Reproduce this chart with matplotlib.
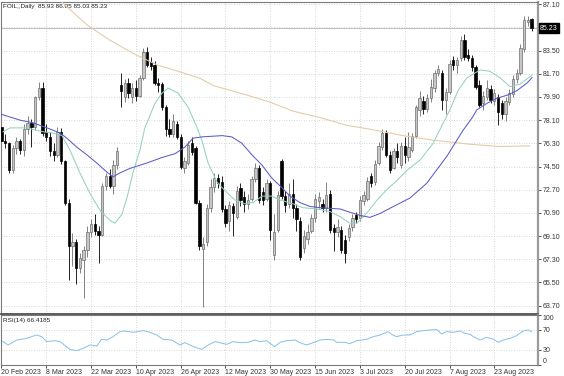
"""FOIL daily candles with three moving averages and an RSI(14) pane, MT4 style."""

import matplotlib
matplotlib.use("Agg")
import matplotlib.pyplot as plt
import numpy as np

plt.rcParams["font.family"] = ["Liberation Sans", "DejaVu Sans"]

# ------------------------------------------------------------------
# Data
# ------------------------------------------------------------------
opens = [
    77.6, 76.5, 76.3, 74.2, 75.9, 76.5, 75.8, 77.4, 77.9, 77.6,
    79.9, 80.6, 77.2, 76.8, 75.7, 75.4, 77.2, 74.9, 71.7, 68.3,
    68.6, 66.6, 67.2, 68.0, 69.4, 70.0, 69.5, 69.2, 73.0, 73.8,
    73.0, 74.6, 80.8, 79.9, 81.0, 79.9, 80.6, 80.0, 81.4, 83.4,
    82.6, 82.4, 81.0, 80.9, 79.1, 77.4, 77.0, 77.8, 76.8, 74.4,
    74.8, 76.3, 75.9, 71.7, 68.1, 68.6, 71.3, 72.9, 73.6, 73.3,
    71.2, 70.3, 71.4, 70.6, 72.8, 72.1, 71.6, 72.0, 73.5, 74.4,
    72.5, 72.0, 73.2, 67.6, 69.6, 74.9, 72.2, 71.6, 72.4, 71.3,
    70.3, 68.2, 68.9, 69.5, 70.5, 71.8, 71.6, 71.3, 72.4, 69.7,
    69.4, 69.6, 68.8, 69.0, 69.8, 70.7, 70.5, 71.8, 72.0, 73.8,
    73.3, 74.8, 76.0, 77.1, 75.4, 74.4, 75.7, 74.6, 76.1, 75.2,
    75.8, 76.9, 78.9, 79.6, 79.0, 79.8, 80.6, 81.8, 81.8, 79.7,
    80.3, 82.8, 82.4, 82.9, 84.3, 83.2, 82.9, 82.2, 80.8, 79.4,
    79.9, 80.5, 79.6, 79.9, 79.4, 78.6, 79.5, 80.1, 81.3, 81.8,
    83.6, 85.7, 85.93,
]
highs = [
    78.0, 77.0, 76.4, 76.2, 76.8, 76.6, 77.8, 78.4, 78.2, 80.0,
    81.1, 81.1, 77.8, 77.2, 76.3, 77.6, 77.5, 75.0, 72.0, 69.3,
    68.9, 67.8, 68.3, 69.9, 70.4, 70.8, 69.9, 73.2, 74.0, 74.3,
    75.0, 76.0, 81.8, 81.3, 81.4, 81.0, 81.2, 81.6, 83.7, 83.8,
    83.0, 82.7, 81.4, 81.1, 79.3, 78.2, 78.6, 78.0, 77.0, 75.2,
    76.5, 76.8, 76.1, 71.9, 69.0, 71.6, 73.5, 74.0, 73.9, 73.8,
    71.5, 71.8, 71.7, 73.0, 73.2, 72.6, 72.4, 73.8, 74.8, 74.6,
    72.9, 73.5, 73.4, 70.8, 72.6, 75.1, 72.6, 73.2, 73.5, 71.6,
    70.6, 69.6, 70.0, 70.8, 72.4, 72.5, 72.0, 73.3, 72.7, 70.0,
    70.4, 69.9, 69.2, 70.0, 70.8, 71.0, 72.2, 72.6, 73.7, 74.0,
    75.0, 76.4, 77.4, 77.3, 75.7, 75.9, 76.3, 76.4, 76.8, 77.2,
    77.1, 79.3, 80.4, 80.0, 80.1, 81.3, 82.0, 82.4, 82.0, 80.6,
    82.8, 83.1, 83.0, 84.6, 84.8, 83.6, 83.2, 82.4, 81.2, 80.4,
    81.2, 80.8, 80.5, 80.1, 79.7, 79.9, 80.5, 81.6, 82.1, 84.0,
    86.2, 86.2, 86.05,
]
lows = [
    76.2, 75.9, 74.0, 74.0, 75.5, 75.5, 75.3, 77.0, 76.0, 77.3,
    79.7, 76.9, 76.5, 75.3, 74.9, 75.2, 74.7, 71.5, 65.7, 66.8,
    65.4, 66.2, 64.3, 67.5, 69.0, 69.2, 67.0, 69.1, 72.7, 72.8,
    72.4, 74.3, 79.1, 79.5, 79.8, 79.4, 79.6, 79.9, 81.2, 82.2,
    82.0, 80.8, 80.3, 78.9, 76.9, 76.8, 76.8, 76.6, 74.3, 74.0,
    74.6, 75.4, 71.6, 68.0, 63.6, 68.3, 71.0, 72.5, 72.8, 71.0,
    69.8, 69.5, 69.1, 70.4, 71.4, 71.0, 71.2, 71.8, 73.3, 71.7,
    71.5, 71.8, 68.8, 67.2, 69.4, 72.0, 71.0, 71.3, 70.5, 69.5,
    67.2, 67.8, 68.5, 69.3, 70.2, 71.3, 71.0, 71.0, 69.3, 67.9,
    69.0, 67.8, 67.0, 68.7, 69.5, 70.1, 70.3, 71.5, 71.8, 72.9,
    73.1, 74.6, 75.8, 75.2, 74.0, 74.3, 74.8, 74.4, 74.8, 74.9,
    75.6, 76.7, 78.4, 78.6, 78.7, 79.5, 80.3, 81.5, 78.9, 78.6,
    80.1, 82.0, 81.8, 82.7, 82.8, 82.7, 81.9, 80.5, 79.1, 78.9,
    79.7, 79.4, 79.3, 77.7, 78.2, 78.0, 79.3, 79.9, 81.0, 81.6,
    83.4, 85.4, 85.03,
]
closes = [
    76.5, 76.3, 74.2, 75.9, 76.5, 75.8, 77.4, 77.9, 77.6, 79.9,
    80.6, 77.1, 76.8, 75.7, 75.4, 77.2, 74.9, 71.7, 68.3, 68.6,
    66.6, 67.4, 68.0, 69.4, 70.0, 69.5, 69.2, 73.0, 73.8, 73.0,
    74.6, 75.7, 80.4, 81.0, 80.2, 80.6, 80.0, 81.4, 83.4, 82.4,
    82.3, 81.0, 80.8, 79.1, 77.4, 77.0, 78.0, 76.8, 74.5, 74.9,
    76.2, 75.6, 71.7, 68.3, 68.5, 71.3, 72.9, 73.6, 73.2, 71.2,
    70.1, 71.5, 70.9, 72.6, 71.9, 71.6, 71.9, 73.5, 74.4, 71.9,
    71.9, 73.2, 69.6, 69.4, 72.3, 72.2, 71.5, 72.4, 71.3, 70.4,
    67.5, 69.1, 69.4, 70.5, 72.0, 72.1, 71.3, 72.3, 69.6, 69.4,
    69.8, 68.0, 67.8, 69.7, 70.5, 70.4, 71.9, 72.3, 73.4, 73.2,
    74.7, 76.1, 77.1, 75.4, 74.2, 75.7, 75.2, 76.1, 75.4, 76.0,
    76.9, 79.1, 79.8, 79.0, 79.8, 80.7, 81.8, 82.1, 79.7, 80.3,
    82.5, 82.4, 82.8, 84.3, 83.0, 82.9, 82.2, 80.7, 79.3, 80.0,
    80.6, 79.7, 80.2, 78.7, 78.6, 79.6, 80.2, 81.3, 81.8, 83.7,
    85.9, 85.9, 85.23,
]

# moving averages: (bar index, value) samples
ma_long_x = [14, 17.0, 22.9, 29.1, 35.2, 41.6, 47.8, 53.2, 56.6, 65.7,
             71.9, 78.1, 85.3, 92.5, 98.7, 107.5, 115.6, 124.7, 133.5, 141.5]
ma_long = [87.9, 87.05, 85.5, 84.3, 83.3, 82.4, 81.85, 81.35, 80.8, 80.05,
           79.5, 78.8, 78.3, 77.7, 77.4, 76.9, 76.55, 76.25, 76.05, 76.1]

ma_fast_x = [0.4, 2.3, 6.8, 11.1, 13.8, 16.2, 18.3, 21.0, 23.7, 26.4,
             29.1, 30.4, 32.3, 33.9, 35.2, 37.1, 38.4, 41.1, 43.0, 44.6,
             47.3, 50.0, 52.4, 53.7, 55.3, 57.7, 59.9, 62.5, 65.2, 67.4,
             69.8, 72.4, 74.6, 78.1, 80.7, 84.5, 88.0, 90.7, 93.3, 95.2,
             97.9, 100.6, 103.2, 105.9, 108.6, 112.1, 115.6, 120.1, 122.3, 124.7,
             128.2, 130.8, 133.5, 136.2, 138.9, 142.1]
ma_fast = [77.2, 77.5, 77.5, 77.2, 77.1, 76.9, 75.8, 74.0, 72.4, 71.1,
           70.3, 70.1, 70.8, 72.4, 74.0, 75.8, 77.5, 79.4, 80.2, 80.6,
           80.2, 79.1, 77.5, 76.5, 74.8, 73.3, 72.6, 71.9, 71.6, 71.7,
           72.2, 72.2, 71.9, 71.6, 71.3, 71.2, 71.0, 70.6, 70.1, 70.1,
           70.9, 71.9, 72.7, 73.4, 74.2, 75.0, 76.3, 78.9, 80.4, 81.4,
           82.0, 81.9, 81.4, 80.7, 80.9, 81.6]

ma_mid_x = [0, 5.0, 8.4, 12.2, 15.7, 17.5, 20.2, 22.9, 25.6, 28.3,
            29.9, 31.7, 34.4, 37.1, 39.2, 43.0, 46.5, 49.1, 51.3, 53.7,
            59.1, 61.7, 64.4, 67.1, 69.8, 72.4, 74.6, 77.3, 79.9, 82.6,
            85.3, 88.0, 90.7, 93.3, 96.0, 98.7, 101.4, 104.0, 106.7, 109.4,
            113.9, 119.3, 123.6, 126.1, 127.3, 130.0, 132.7, 135.5, 138.1, 140.8,
            142.1]
ma_mid = [78.55, 78.1, 77.9, 77.5, 77.1, 76.7, 76.0, 75.4, 74.75, 74.05,
          73.7, 74.0, 74.35, 74.6, 74.8, 75.2, 75.5, 76.0, 76.7, 76.8,
          76.9, 76.8, 76.3, 75.4, 74.6, 73.6, 73.0, 72.2, 71.7, 71.4,
          71.3, 71.25, 71.2, 70.95, 70.7, 70.55, 70.85, 71.25, 71.65, 72.05,
          73.2, 75.3, 77.3, 78.3, 78.9, 79.4, 79.8, 80.05, 80.4, 81.0,
          81.4]

rsi_x = [0, 1.8, 4.1, 6.7, 9.4, 10.8, 12.1, 14.3, 15.7, 18.3,
         20.1, 21.9, 23.7, 25.5, 26.8, 28.2, 29.9, 31.7, 33.1, 35.3,
         38.0, 39.8, 41.6, 43.3, 45.6, 47.8, 49.1, 51.4, 53.6, 55.4,
         57.2, 58.5, 60.3, 62.1, 63.9, 66.1, 67.9, 69.2, 71.0, 71.9,
         73.2, 74.6, 76.4, 78.6, 79.9, 81.7, 83.5, 85.3, 87.1, 88.9,
         89.8, 92.0, 93.3, 95.1, 97.8, 99.6, 101.4, 103.6, 104.5, 105.8,
         107.6, 109.4, 111.2, 112.9, 114.7, 116.5, 117.9, 119.2, 121.0, 122.8,
         124.1, 125.5, 126.4, 128.2, 129.9, 131.7, 133.1, 134.4, 136.2, 138.0,
         139.7, 141.1, 142.0]
rsi = [48.7, 40.0, 50.0, 53.3, 60.0, 56.7, 46.7, 48.7, 46.7, 31.3,
       28.7, 33.3, 40.0, 38.0, 51.3, 50.0, 56.7, 66.7, 68.0, 65.3,
       68.7, 65.3, 60.0, 51.3, 50.0, 40.0, 44.7, 36.7, 31.3, 40.0,
       46.7, 44.7, 41.3, 46.7, 44.7, 45.3, 50.0, 46.7, 48.7, 43.3,
       36.7, 45.3, 48.7, 50.0, 44.7, 40.0, 44.7, 50.0, 51.3, 50.0,
       45.3, 45.3, 42.7, 48.7, 51.3, 56.7, 60.0, 66.7, 61.3, 56.7,
       60.0, 60.0, 66.7, 68.7, 70.0, 71.3, 62.0, 66.7, 65.3, 68.0,
       63.3, 61.3, 56.7, 50.0, 55.3, 52.0, 45.3, 50.0, 53.3, 58.7,
       68.0, 70.0, 66.4]

price_ticks = [63.70, 65.50, 67.30, 69.10, 70.90, 72.70, 74.50, 76.30,
               78.10, 79.90, 81.70, 83.50, 85.30, 87.10]
last_price = 85.23
date_idx = [0, 12, 24, 36, 48, 60, 72, 84, 96, 108, 120, 132]
date_labels = ["20 Feb 2023", "8 Mar 2023", "22 Mar 2023", "10 Apr 2023",
               "26 Apr 2023", "12 May 2023", "30 May 2023", "15 Jun 2023",
               "3 Jul 2023", "20 Jul 2023", "7 Aug 2023", "23 Aug 2023"]
header = "FOIL,,Daily  85.93 86.05 85.03 85.23"
rsi_title = "RSI(14) 66.4185"

# ------------------------------------------------------------------
# Figure layout (pixel-matched to 564x376)
# ------------------------------------------------------------------
W, H = 564, 376
fig = plt.figure(figsize=(W / 100, H / 100), dpi=100)
fig.patch.set_facecolor("white")
ax = fig.add_axes([1 / W, 1 - 313.5 / H, 537 / W, 311.5 / H])
ax_rsi = fig.add_axes([1 / W, 1 - 365 / H, 537 / W, 50 / H], sharex=ax)

GRID = dict(color="#c9c9c9", linestyle=(0, (1, 2)), linewidth=0.6)

# Candles
o = np.array(opens)
h = np.array(highs)
lo = np.array(lows)
c = np.array(closes)
idx = np.arange(len(c))
up = c >= o
body = np.maximum(np.abs(c - o), 0.05)

ax.vlines(idx[up], lo[up], h[up], color="#6e6e6e", linewidth=0.6, zorder=2)
ax.vlines(idx[~up], lo[~up], h[~up], color="black", linewidth=0.6, zorder=2)
ax.bar(idx[up], body[up], bottom=o[up], width=0.62,
       color="#c6c6c6", edgecolor="#6e6e6e", linewidth=0.5, zorder=3)
ax.bar(idx[~up], body[~up], bottom=c[~up], width=0.62,
       color="black", edgecolor="black", linewidth=0.5, zorder=3)

# Moving averages
ax.plot(ma_long_x, ma_long, color="#e3c9a6", linewidth=0.75, zorder=4)
ax.plot(ma_fast_x, ma_fast, color="#94d1bf", linewidth=0.75, zorder=4)
ax.plot(ma_mid_x, ma_mid, color="#5b5bc8", linewidth=0.75, zorder=4)

# Bid line
ax.axhline(last_price, color="#b5b5b5", linewidth=0.6, zorder=1)

ax.set_xlim(-0.13, 143.7)
ax.set_ylim(63.08, 87.28)
ax.set_yticks(price_ticks)
ax.set_yticklabels(["" if abs(p - 85.30) < 1e-6 else f"{p:.2f}" for p in price_ticks])
ax.yaxis.tick_right()
ax.tick_params(axis="y", labelsize=5, length=2, width=0.6, pad=1.5,
               colors="#333333")
ax.set_xticks(date_idx)
ax.tick_params(axis="x", length=0, labelbottom=False)
ax.grid(True, **GRID)
ax.set_axisbelow(True)

ax.text(1.004, last_price, f"{last_price:.2f}", transform=ax.get_yaxis_transform(),
        fontsize=5, color="white", va="center", ha="left",
        bbox=dict(boxstyle="square,pad=0.2", facecolor="black", edgecolor="black"))
ax.text(0.004, 0.992, header, transform=ax.transAxes, va="top", ha="left",
        fontsize=4.6, color="#222222")

for name, spine in ax.spines.items():
    spine.set_color("#7a7a7a")
    spine.set_linewidth(0.8)
ax.spines["right"].set_color("#9a9a9a")
ax.spines["right"].set_linewidth(1.6)
ax.spines["bottom"].set_color("#404040")
ax.spines["bottom"].set_linewidth(1.2)

# RSI pane
ax_rsi.plot(rsi_x, rsi, color="#8cc3ea", linewidth=0.75)
ax_rsi.set_ylim(0, 100)
ax_rsi.set_yticks([0, 30, 70, 100])
ax_rsi.set_yticklabels(["0", "30", "70", "100"])
ax_rsi.yaxis.tick_right()
ax_rsi.tick_params(axis="y", labelsize=5, length=2, width=0.6, pad=1.5,
                   colors="#333333")
ylabels = ax_rsi.get_yticklabels()
ylabels[0].set_va("bottom")
ylabels[-1].set_va("top")
ax_rsi.set_xticks(date_idx)
ax_rsi.set_xticklabels(date_labels, ha="left")
ax_rsi.tick_params(axis="x", labelsize=5, length=2, width=0.6, pad=1,
                   colors="#333333")
ax_rsi.grid(True, **GRID)
ax_rsi.text(0.004, 0.94, rsi_title, transform=ax_rsi.transAxes, va="top",
            ha="left", fontsize=4.6, color="#222222")

for name, spine in ax_rsi.spines.items():
    spine.set_color("#7a7a7a")
    spine.set_linewidth(0.8)
ax_rsi.spines["right"].set_color("#9a9a9a")
ax_rsi.spines["right"].set_linewidth(1.6)

fig.savefig("out.png", dpi=100, facecolor="white")
plt.close(fig)
